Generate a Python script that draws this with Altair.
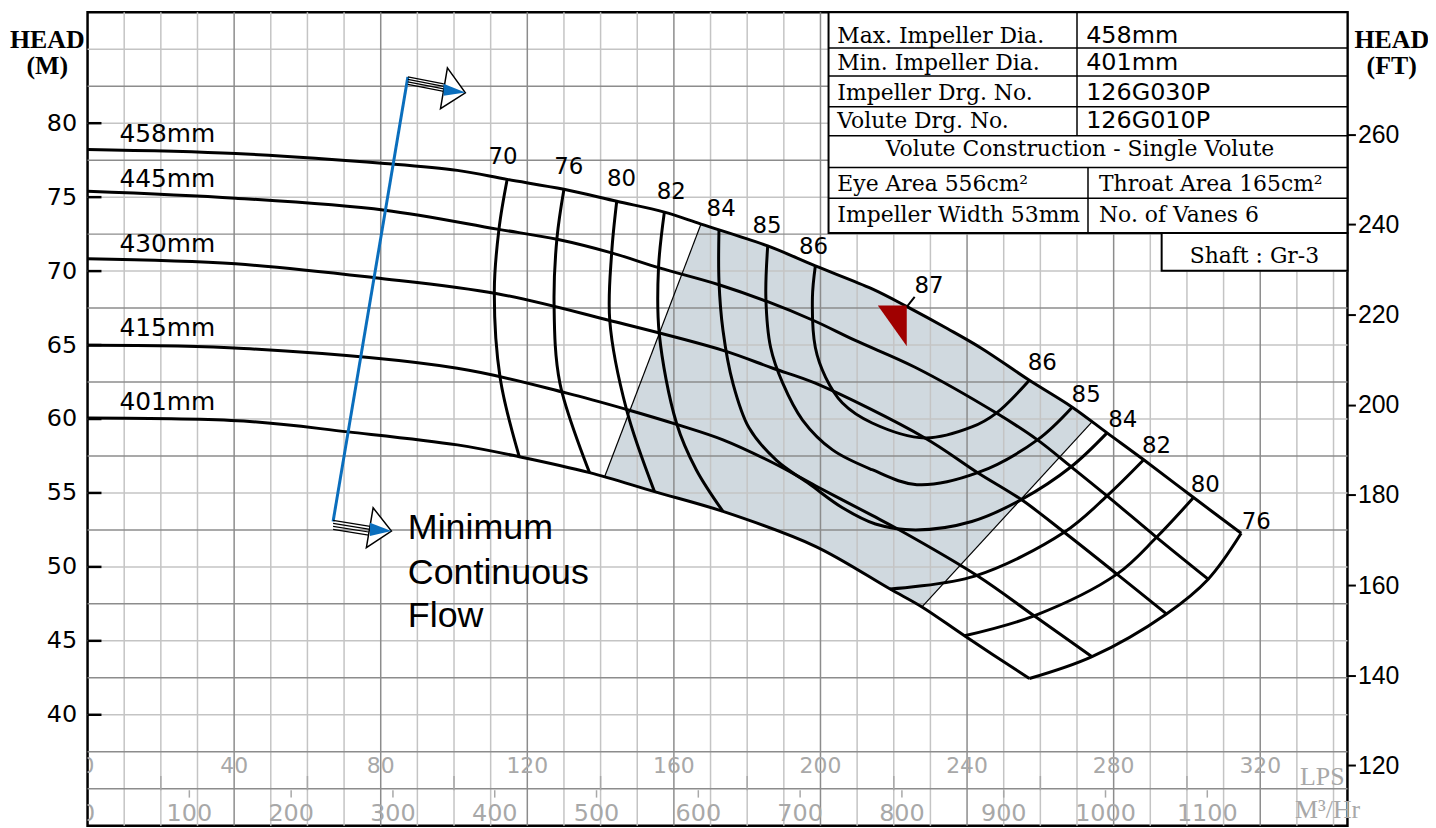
import altair as alt
import pandas as pd

# ---------------- axis ranges ----------------
XMAX = 343.8          # LPS at right frame
YMIN, YMAX = 32.5, 87.5  # metres
FT = 3.28084

# ---------------- head-capacity curves (LPS, m) ----------------
q458 = [0, 40.4, 81.1, 100.9, 114.5, 130.0, 144.4, 157.4, 167.4, 185.6, 198.6, 214.1, 223.6, 234.7, 244.0, 257.0, 268.7, 278.2, 288.2, 301.8, 314.8]
h458 = [78.22, 77.95, 77.28, 76.81, 76.20, 75.53, 74.72, 73.99, 73.18, 71.70, 70.35, 68.80, 67.60, 66.10, 64.77, 62.62, 60.80, 59.06, 57.24, 54.69, 52.27]

q445 = [0, 40.4, 81.1, 111.8, 128.1, 143.0, 156.0, 172.3, 185.6, 198.1, 209.5, 225.8, 248.0, 259.2, 268.4, 278.2, 291.7, 305.8]
h445 = [75.40, 74.93, 74.12, 72.84, 72.15, 71.23, 70.22, 69.08, 67.93, 66.66, 65.31, 63.50, 60.40, 58.59, 56.77, 54.80, 52.00, 49.17]

q430 = [0, 40.4, 78.4, 111.8, 142.5, 173.4, 187.0, 198.6, 228.5, 242.9, 254.8, 266.5, 280.9, 294.4]
h430 = [70.83, 70.49, 69.55, 68.47, 66.66, 64.64, 63.43, 62.42, 58.72, 56.37, 54.55, 52.34, 49.51, 46.82]

q415 = [0, 42.6, 100.9, 130.8, 147.6, 161.2, 173.4, 187.0, 198.6, 214.1, 221.2, 242.9, 258.3, 274.1]
h415 = [64.98, 64.77, 63.43, 61.75, 60.61, 59.60, 58.59, 57.04, 55.49, 53.48, 52.54, 49.38, 46.69, 43.93]

q401 = [0, 42.6, 71.1, 100.9, 117.8, 137.0, 154.7, 173.4, 198.6, 219.0, 227.7, 239.3, 257.0]
h401 = [60.07, 59.86, 59.13, 58.25, 57.45, 56.37, 55.09, 53.75, 51.39, 48.50, 47.29, 45.34, 42.45]

# ---------------- iso-efficiency contours ----------------
e70_q = [114.5, 112.3, 111.0, 112.6, 117.8]
e70_h = [76.20, 72.91, 68.67, 62.76, 57.45]
e76a_q = [130.0, 128.1, 127.3, 128.9, 137.0]
e76a_h = [75.53, 72.24, 67.80, 62.42, 56.37]
e76b_q = [257.0, 274.1, 294.4, 305.8, 314.8]
e76b_h = [42.45, 43.93, 46.82, 49.17, 52.27]
e80a_q = [144.4, 143.0, 142.5, 147.1, 154.7]
e80a_h = [74.72, 71.16, 66.66, 60.61, 55.09]
e80b_q = [239.3, 258.3, 280.9, 291.7, 301.8]
e80b_h = [45.34, 46.69, 49.51, 52.00, 54.69]
e82a_q = [157.4, 155.8, 156.0, 160.7, 166.1, 173.4]
e82a_h = [73.99, 70.22, 65.78, 59.73, 56.57, 53.75]
e82b_q = [219.0, 242.1, 266.5, 278.2, 288.2]
e82b_h = [48.50, 49.38, 52.34, 54.80, 57.24]
e84_q = [172.3, 172.3, 173.4, 176.1, 180.5, 188.0, 197.0, 206.0, 215.0, 226.0, 241.3, 254.8, 268.4, 278.2]
e84_h = [72.78, 69.34, 65.98, 62.42, 59.40, 57.20, 55.60, 54.00, 52.90, 52.50, 53.07, 54.55, 56.77, 59.06]
e85_q = [185.6, 185.1, 186.4, 189.7, 195.1, 203.3, 214.1, 226.3, 242.9, 259.2, 268.7]
e85_h = [71.70, 68.20, 64.83, 62.42, 59.93, 57.91, 56.57, 55.56, 56.37, 58.59, 60.80]
e86_q = [198.6, 197.8, 198.6, 201.4, 206.0, 214.1, 228.5, 241.3, 248.0, 257.0]
e86_h = [70.35, 68.20, 64.83, 62.82, 61.08, 59.73, 58.72, 59.46, 60.40, 62.62]

# ---------------- shaded preferred operating region ----------------
shade_q = [141.1, 150, 160, 167.4, 186, 199, 214, 219, 224, 227.7, 235, 244, 257, 269, 274.1]
shade_lo = [56.10, 55.43, 54.75, 54.27, 52.60, 51.35, 49.20, 48.50, 47.80, 47.29, 49.26, 51.69, 55.20, 58.44, 59.80]
shade_hi = [56.10, 61.88, 68.37, 73.18, 71.67, 70.30, 68.85, 68.28, 67.55, 67.00, 66.00, 64.77, 62.62, 60.76, 59.80]
edge_q1 = [141.1, 227.7]
edge_h1 = [56.10, 47.29]
edge_q2 = [167.4, 274.1]
edge_h2 = [73.18, 59.80]

# ---------------- labels ----------------
dia_labels = ["458mm", "445mm", "430mm", "415mm", "401mm"]
dia_lab_q = [8.7, 8.7, 8.7, 8.7, 8.7]
dia_lab_h = [78.76, 75.67, 71.30, 65.58, 60.61]

eff_labels = ["70", "76", "80", "82", "84", "85", "86", "87", "86", "85", "84", "82", "80", "76"]
eff_lab_q = [113.4, 131.3, 145.7, 159.3, 172.9, 185.4, 198.1, 229.6, 260.5, 272.5, 282.5, 291.7, 305.0, 318.9]
eff_lab_h = [77.21, 76.54, 75.73, 74.86, 73.72, 72.57, 71.16, 68.54, 63.29, 61.14, 59.46, 57.71, 55.09, 52.54]

head_m_ticks = [40, 45, 50, 55, 60, 65, 70, 75, 80]
head_ft_ticks = [120, 140, 160, 180, 200, 220, 240, 260]
lps_ticks = [0, 40, 80, 120, 160, 200, 240, 280, 320]
m3h_ticks = [0, 100, 200, 300, 400, 500, 600, 700, 800, 900, 1000, 1100]

# minimum continuous flow marker
mcf_q = [67.0, 87.4]
mcf_h = [53.07, 83.13]

# info table
tab_row_h = [85.08, 83.20, 81.11, 79.16, 77.01, 74.93]
tab_left_text = ["Max. Impeller Dia.", "Min. Impeller Dia.", "Impeller Drg. No.", "Volute Drg. No.",
                 "Eye Area 556cm²", "Impeller Width 53mm"]
tab_left_h = [85.42, 83.60, 81.58, 79.70, 75.40, 73.31]
tab_right_text = ["458mm", "401mm", "126G030P", "126G010P"]
tab_right_h = [85.42, 83.60, 81.58, 79.70]
tab_mid_text = ["Throat Area 165cm²", "No. of Vanes 6"]
tab_mid_h = [75.40, 73.31]

# ---------------- helpers ----------------
xs = alt.Scale(domain=[0, XMAX], nice=False, zero=False)
ys = alt.Scale(domain=[YMIN, YMAX], nice=False, zero=False)


def X(f="q"):
    return alt.X(f"{f}:Q", scale=xs, axis=None)


def Y(f="h"):
    return alt.Y(f"{f}:Q", scale=ys, axis=None)


def long_df(curves):
    rows = []
    for name, qs, hs in curves:
        for i, (q, h) in enumerate(zip(qs, hs)):
            rows.append({"name": name, "i": i, "q": q, "h": h})
    return pd.DataFrame(rows)


def text_layer(texts, qs, hs, size, font="DejaVu Sans", color="black", align="center",
               clip=False, weight="normal"):
    df = pd.DataFrame({"t": texts, "q": qs, "h": hs})
    return alt.Chart(df).mark_text(font=font, fontSize=size, color=color, align=align,
                                   baseline="alphabetic", clip=clip, fontWeight=weight).encode(
        x=X(), y=Y(), text="t:N")


def seg_layer(q1, h1, q2, h2, color="black", width=1.0):
    df = pd.DataFrame({"q": q1, "h": h1, "q2": q2, "h2": h2})
    return alt.Chart(df).mark_rule(color=color, strokeWidth=width).encode(
        x=X(), y=Y(), x2="q2:Q", y2="h2:Q")


# ---------------- layers ----------------
shade = alt.Chart(pd.DataFrame({"q": shade_q, "lo": shade_lo, "hi": shade_hi})).mark_area(
    color="#d0d9df", opacity=1).encode(x=X(), y=Y("lo"), y2="hi:Q")

vq = list(range(10, 341, 10))
vgrid_light = alt.Chart(pd.DataFrame({"q": [v for v in vq if v % 40]})).mark_rule(
    color="#c4c4c4", strokeWidth=1.5).encode(x=X())
vgrid_dark = alt.Chart(pd.DataFrame({"q": [v for v in vq if v % 40 == 0]})).mark_rule(
    color="#8c8c8c", strokeWidth=1.5).encode(x=X())
hvals = [35 + 2.5 * k for k in range(21)]
hgrid_light = alt.Chart(pd.DataFrame({"h": [v for v in hvals if v % 5 == 0 and v != 35]})).mark_rule(
    color="#c4c4c4", strokeWidth=1.5).encode(y=Y())
hgrid_dark = alt.Chart(pd.DataFrame({"h": [v for v in hvals if v % 5 != 0 or v == 35]})).mark_rule(
    color="#8c8c8c", strokeWidth=1.5).encode(y=Y())

edges = seg_layer(edge_q1, edge_h1, edge_q2, edge_h2, width=1.2)

curves_df = long_df([("458", q458, h458), ("445", q445, h445), ("430", q430, h430),
                     ("415", q415, h415), ("401", q401, h401)])
curves = alt.Chart(curves_df).mark_line(color="black", strokeWidth=3, interpolate="catmull-rom").encode(
    x=X(), y=Y(), detail="name:N", order="i:Q")

eff_df = long_df([("70", e70_q, e70_h), ("76a", e76a_q, e76a_h), ("76b", e76b_q, e76b_h),
                  ("80a", e80a_q, e80a_h), ("80b", e80b_q, e80b_h), ("82a", e82a_q, e82a_h),
                  ("82b", e82b_q, e82b_h), ("84", e84_q, e84_h), ("85", e85_q, e85_h),
                  ("86", e86_q, e86_h)])
effs = alt.Chart(eff_df).mark_line(color="black", strokeWidth=3, interpolate="catmull-rom").encode(
    x=X(), y=Y(), detail="name:N", order="i:Q")

# minimum continuous flow line and arrows
mcf = seg_layer([mcf_q[0]], [mcf_h[0]], [mcf_q[1]], [mcf_h[1]], color="#0a6ebd", width=3)
shaft_top = seg_layer([87.4] * 4, [83.13, 82.96, 82.79, 82.63], [97.2] * 4, [82.66, 82.49, 82.32, 82.15],
                      width=1.2)
shaft_bot = seg_layer([67.0] * 4, [53.14, 52.94, 52.74, 52.54], [77.1] * 4, [52.74, 52.54, 52.34, 52.13],
                      width=1.2)
arrow_tip = alt.Chart(pd.DataFrame({"q": [99.7], "h": [82.36]})).mark_point(
    shape="M-0.27,-1 L0.61,0.22 L-0.61,1 Z", size=1681, filled=True, fill="white", stroke="black",
    strokeWidth=1.5, opacity=1).encode(x=X(), y=Y())
arrow_tip_blue = alt.Chart(pd.DataFrame({"q": [99.7], "h": [82.36]})).mark_point(
    shape="M-0.46,-0.22 L0.61,0.2 L-0.46,0.37 Z", size=1681, filled=True, color="#0a6ebd",
    opacity=1).encode(x=X(), y=Y())
arrow_bot = alt.Chart(pd.DataFrame({"q": [79.5], "h": [52.65]})).mark_point(
    shape="M-0.29,-1 L0.63,0.17 L-0.63,1 Z", size=1600, filled=True, fill="white", stroke="black",
    strokeWidth=1.5, opacity=1).encode(x=X(), y=Y())
arrow_bot_blue = alt.Chart(pd.DataFrame({"q": [79.5], "h": [52.65]})).mark_point(
    shape="M-0.45,-0.25 L0.63,0.17 L-0.45,0.42 Z", size=1600, filled=True, color="#0a6ebd",
    opacity=1).encode(x=X(), y=Y())

# best efficiency point marker
bep = alt.Chart(pd.DataFrame({"q": [219.6], "h": [66.29]})).mark_point(
    shape="M-0.71,-1 L0.71,-1 L0.71,1 Z", size=1681, filled=True, color="#a00000", opacity=1).encode(
    x=X(), y=Y())
bep_lead = seg_layer([223.6], [67.60], [225.7], [68.25], width=2)

# left inward ticks
lticks = seg_layer([0] * len(head_m_ticks), head_m_ticks, [3.8] * len(head_m_ticks), head_m_ticks, width=2.5)

# bottom band small ticks
m3_tick_q = [v / 3.6 for v in m3h_ticks[1:]]
m3_ticks = seg_layer(m3_tick_q, [34.9] * len(m3_tick_q), m3_tick_q, [34.4] * len(m3_tick_q),
                     color="#a8a8a8", width=1.5)
l20 = [20, 60, 100, 140, 180, 220, 260, 300]
lps_small = seg_layer(l20, [35.86] * len(l20), l20, [34.9] * len(l20), color="#a8a8a8", width=1.5)

# info table
tab_box = alt.Chart(pd.DataFrame({"q": [202.2, 293.1], "q2": [XMAX, XMAX], "h": [72.57, 70.02],
                                  "h2": [YMAX, 72.57]})).mark_rect(
    fill="white", stroke="black", strokeWidth=2).encode(x=X(), x2="q2:Q", y=Y(), y2="h2:Q")
tab_hlines = seg_layer([202.2] * len(tab_row_h), tab_row_h, [XMAX] * len(tab_row_h), tab_row_h, width=1.5)
tab_vlines = seg_layer([270.0, 273.0], [YMAX, 77.01], [270.0, 273.0], [79.16, 72.57], width=1.5)

# ---------------- texts ----------------
t_dia = text_layer(dia_labels, dia_lab_q, dia_lab_h, 25, align="left")
t_eff = text_layer(eff_labels, eff_lab_q, eff_lab_h, 23)
t_mcf = text_layer(["Minimum", "Continuous", "Flow"], [87.4] * 3, [51.86, 48.84, 45.95], 36,
                   font="Liberation Sans", align="left")
t_lps = text_layer([str(v) for v in lps_ticks], lps_ticks, [36.06] * len(lps_ticks), 22,
                   color="#a8a8a8", clip=True)
t_m3h = text_layer([str(v) for v in m3h_ticks], [v / 3.6 for v in m3h_ticks], [32.84] * len(m3h_ticks), 24,
                   color="#a8a8a8", clip=True)
t_units = alt.layer(
    text_layer(["LPS"], [343.0], [35.26], 26, font="Liberation Serif", color="#a8a8a8", align="right"),
    text_layer(["M³/Hr"], [329.5], [33.05], 26, font="Liberation Serif", color="#a8a8a8", align="left"),
)
t_tab_left = text_layer(tab_left_text, [204.6] * len(tab_left_text), tab_left_h, 22,
                        font="DejaVu Serif", align="left")
t_tab_right = text_layer(tab_right_text, [272.5] * len(tab_right_text), tab_right_h, 24, align="left")
t_tab_mid = text_layer(tab_mid_text, [276.0] * 2, tab_mid_h, 22, font="DejaVu Serif", align="left")
t_tab_center = text_layer(["Volute Construction - Single Volute", "Shaft : Gr-3"], [270.8, 318.4],
                          [77.75, 70.56], 22, font="DejaVu Serif")

main = alt.layer(
    shade, vgrid_light, hgrid_light, vgrid_dark, hgrid_dark, edges, curves, effs,
    mcf, shaft_top, shaft_bot, arrow_tip, arrow_tip_blue, arrow_bot, arrow_bot_blue,
    bep, bep_lead, lticks, m3_ticks, lps_small,
    tab_box, tab_hlines, tab_vlines,
    t_dia, t_eff, t_mcf, t_lps, t_m3h, t_units,
    t_tab_left, t_tab_right, t_tab_mid, t_tab_center,
)

left = alt.Chart(pd.DataFrame({"hm": [60]})).mark_point(opacity=0).encode(
    y=alt.Y("hm:Q", scale=alt.Scale(domain=[YMIN, YMAX], nice=False, zero=False),
            axis=alt.Axis(orient="left", values=head_m_ticks, format="d", labelFont="DejaVu Sans",
                          labelFontSize=24, labelColor="black", labelPadding=11, ticks=False,
                          domain=False, grid=False, title=["HEAD", "(M)"], titleFont="Liberation Serif",
                          titleFontSize=26, titleFontWeight="bold", titleColor="black", titleAngle=0,
                          titleAlign="center", titleBaseline="alphabetic", titleX=-41, titleY=35,
                          titleLineHeight=27)))

right = alt.Chart(pd.DataFrame({"ft": [200]})).mark_point(opacity=0).encode(
    y=alt.Y("ft:Q", scale=alt.Scale(domain=[YMIN * FT, YMAX * FT], nice=False, zero=False),
            axis=alt.Axis(orient="right", values=head_ft_ticks, format="d", labelFont="Liberation Sans",
                          labelFontSize=25, labelColor="black", labelPadding=2, tickSize=8,
                          tickWidth=2, tickColor="black", domain=False, grid=False,
                          title=["HEAD", "(FT)"], titleFont="Liberation Serif", titleFontSize=26,
                          titleFontWeight="bold", titleColor="black", titleAngle=0,
                          titleAlign="center", titleBaseline="alphabetic", titleX=44, titleY=35,
                          titleLineHeight=27)))

chart = alt.layer(main, left, right).resolve_scale(y="independent").properties(
    width=1267, height=818,
    padding={"left": 80, "top": 2, "right": 81, "bottom": 0},
    autosize=alt.AutoSizeParams(type="none"),
    background="white",
).configure_view(stroke="black", strokeWidth=2.5)

chart.save("out.html", embed_options={"renderer": "svg", "actions": False})
